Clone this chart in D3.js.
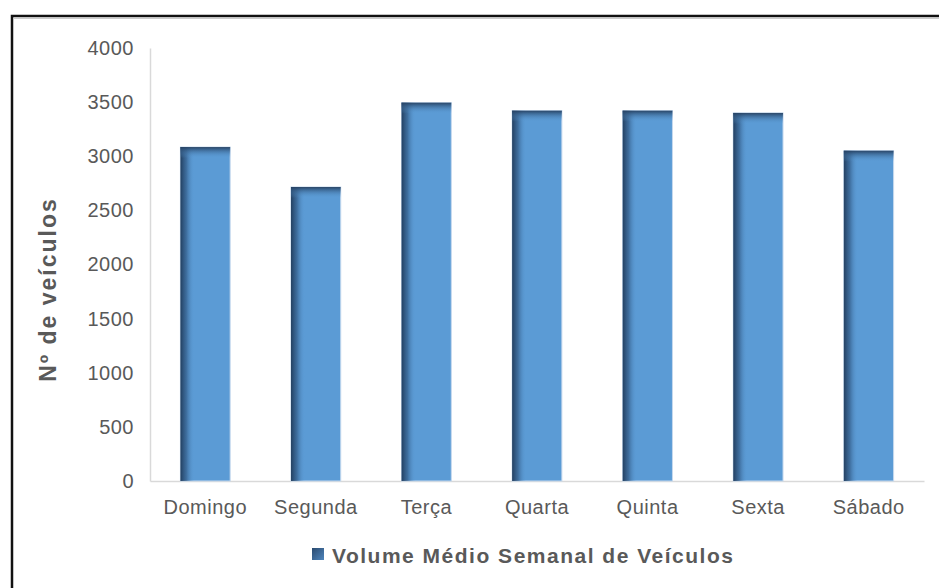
<!DOCTYPE html>
<html>
<head>
<meta charset="utf-8">
<script src="https://cdn.jsdelivr.net/npm/d3@7"></script>
<style>
  body { margin: 0; background: #fff; }
  svg { display: block; font-family: "Liberation Sans", Arial, sans-serif; }
</style>
</head>
<body>
<div id="chart"></div>
<script>
  // dados
  var dias = ["Domingo", "Segunda", "Terça", "Quarta", "Quinta", "Sexta", "Sábado"];
  var volumes = [3085, 2716, 3495, 3421, 3421, 3400, 3051];
  var yTicks = [0, 500, 1000, 1500, 2000, 2500, 3000, 3500, 4000];
  var serieNome = "Volume Médio Semanal de Veículos";
  var eixoYTitulo = "Nº de veículos";

  var width = 939, height = 588;
  var margin = {top: 48, left: 150, right: 15, bottom: 107};

  var svg = d3.select("#chart").append("svg")
    .attr("width", width)
    .attr("height", height);

  var defs = svg.append("defs");
  var gLeft = defs.append("linearGradient").attr("id", "gradLeft")
    .attr("x1", 0).attr("x2", 1).attr("y1", 0).attr("y2", 0);
  gLeft.append("stop").attr("offset", "0%").attr("stop-color", "#1f3a5a").attr("stop-opacity", 0.95);
  gLeft.append("stop").attr("offset", "12%").attr("stop-color", "#2b4f78").attr("stop-opacity", 0.6);
  gLeft.append("stop").attr("offset", "28%").attr("stop-color", "#5b9bd5").attr("stop-opacity", 0);
  var gTop = defs.append("linearGradient").attr("id", "gradTop")
    .attr("x1", 0).attr("x2", 0).attr("y1", 0).attr("y2", 1);
  gTop.append("stop").attr("offset", "0%").attr("stop-color", "#243f60").attr("stop-opacity", 0.95);
  gTop.append("stop").attr("offset", "100%").attr("stop-color", "#5b9bd5").attr("stop-opacity", 0);
  var gLeg = defs.append("linearGradient").attr("id", "gradLeg")
    .attr("x1", 0).attr("x2", 1).attr("y1", 0).attr("y2", 1);
  gLeg.append("stop").attr("offset", "0%").attr("stop-color", "#2a4a6f");
  gLeg.append("stop").attr("offset", "100%").attr("stop-color", "#4f86bd");

  // moldura
  svg.append("rect")
    .attr("x", 12).attr("y", 16)
    .attr("width", 1000).attr("height", 1000)
    .attr("fill", "none")
    .attr("stroke", "#111")
    .attr("stroke-width", 2.5);
  svg.append("line")
    .attr("x1", 13.5).attr("x2", width).attr("y1", 18.5).attr("y2", 18.5)
    .attr("stroke", "#ccc").attr("stroke-width", 1);

  var x = d3.scaleBand()
    .domain(dias)
    .range([margin.left, width - margin.right])
    .paddingInner(0.55)
    .paddingOuter(0.275);

  var y = d3.scaleLinear()
    .domain([0, 4000])
    .range([height - margin.bottom, margin.top]);

  var xAxis = svg.append("g")
    .attr("transform", "translate(0," + (height - margin.bottom) + ")")
    .call(d3.axisBottom(x).tickSize(0).tickPadding(19));
  xAxis.select(".domain").attr("stroke", "#d9d9d9").attr("stroke-width", 1.5);
  xAxis.selectAll("text")
    .attr("fill", "#595959")
    .style("font-size", "20px")
    .style("letter-spacing", "0.5px");

  var yAxis = svg.append("g")
    .attr("transform", "translate(" + margin.left + ",0)")
    .call(d3.axisLeft(y).tickValues(yTicks).tickSize(0).tickPadding(16).tickFormat(d3.format("d")));
  yAxis.select(".domain").attr("stroke", "#d9d9d9").attr("stroke-width", 1.5);
  yAxis.selectAll("text")
    .attr("fill", "#595959")
    .style("font-size", "20px")
    .style("letter-spacing", "0.5px");

  var bars = svg.append("g").selectAll("g")
    .data(volumes)
    .join("g");

  bars.append("rect")
    .attr("x", function(d, i) { return x(dias[i]); })
    .attr("y", function(d) { return y(d); })
    .attr("width", x.bandwidth())
    .attr("height", function(d) { return y(0) - y(d); })
    .attr("fill", "#5b9bd5")
    .attr("stroke", "#c6d9ee")
    .attr("stroke-width", 1);

  bars.append("rect")
    .attr("x", function(d, i) { return x(dias[i]); })
    .attr("y", function(d) { return y(d); })
    .attr("width", x.bandwidth())
    .attr("height", function(d) { return y(0) - y(d); })
    .attr("fill", "url(#gradLeft)");

  bars.append("rect")
    .attr("x", function(d, i) { return x(dias[i]); })
    .attr("y", function(d) { return y(d); })
    .attr("width", x.bandwidth())
    .attr("height", 11)
    .attr("fill", "url(#gradTop)");

  // titulo do eixo Y
  svg.append("text")
    .attr("transform", "translate(56," + ((y(0) + y(4000)) / 2 + 25) + ") rotate(-90)")
    .attr("text-anchor", "middle")
    .attr("fill", "#595959")
    .style("font-size", "23px")
    .style("font-weight", "bold")
    .style("letter-spacing", "2px")
    .text(eixoYTitulo);

  // legenda
  var leg = svg.append("g");
  leg.append("rect")
    .attr("x", 312).attr("y", 548)
    .attr("width", 12).attr("height", 12)
    .attr("fill", "url(#gradLeg)");
  leg.append("text")
    .attr("x", 332).attr("y", 563)
    .attr("fill", "#595959")
    .style("font-size", "21px")
    .style("font-weight", "bold")
    .style("letter-spacing", "1.5px")
    .text(serieNome);
</script>
</body>
</html>
